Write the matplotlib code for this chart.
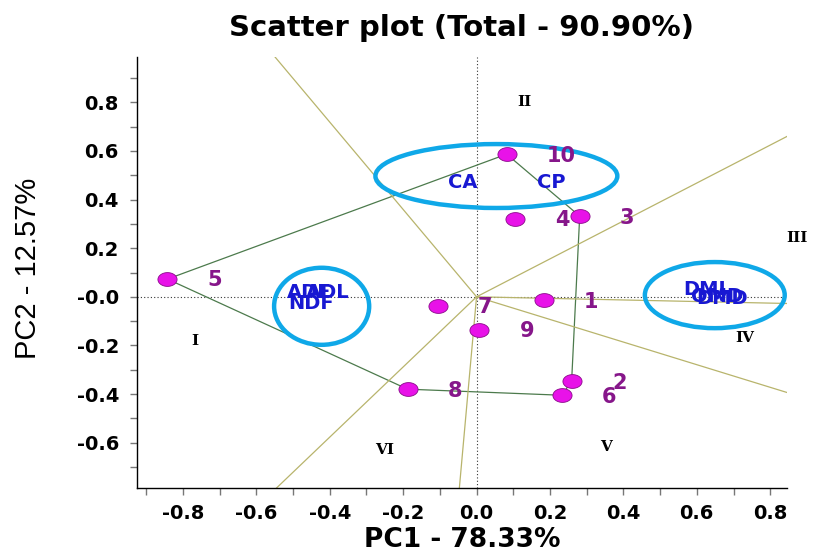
import numpy as np
import matplotlib.pyplot as plt
from matplotlib.patches import Ellipse
from matplotlib.path import Path

# genotype scores (PC1, PC2)
genotypes = ['1', '2', '3', '4', '5', '6', '7', '8', '9', '10']
pc1 = [0.183, 0.259, 0.281, 0.104, -0.842, 0.232, -0.106, -0.188, 0.008, 0.082]
pc2 = [-0.014, -0.347, 0.332, 0.320, 0.073, -0.405, -0.038, -0.380, -0.137, 0.587]

# trait vectors (label positions)
traits = ['CA', 'CP', 'ADF', 'ADL', 'NDF', 'DMI', 'OMD', 'DMD']
trait_x = [-0.038, 0.204, -0.455, -0.406, -0.450, 0.621, 0.654, 0.668]
trait_y = [0.472, 0.472, 0.019, 0.019, -0.026, 0.031, 0.003, -0.005]

# polygon vertices (which-won-where)
hull_order = ['5', '10', '3', '2', '6', '8']

# sector labels
sectors = ['I', 'II', 'III', 'IV', 'V', 'VI']
sector_x = [-0.768, 0.131, 0.872, 0.730, 0.354, -0.251]
sector_y = [-0.182, 0.801, 0.241, -0.170, -0.619, -0.631]

xticks = [-0.8, -0.6, -0.4, -0.2, 0.0, 0.2, 0.4, 0.6, 0.8]
xticklabels = ['-0.8', '-0.6', '-0.4', '-0.2', '0.0', '0.2', '0.4', '0.6', '0.8']
yticks = [-0.6, -0.4, -0.2, 0.0, 0.2, 0.4, 0.6, 0.8]
yticklabels = ['-0.6', '-0.4', '-0.2', '-0.0', '0.2', '0.4', '0.6', '0.8']

fig = plt.figure(figsize=(8.13, 5.57), dpi=100)
ax = fig.add_axes([0.1685, 0.1233, 0.7992, 0.7749])

# axes through origin
ax.axhline(0, color='#333333', ls=(0, (1, 2)), lw=0.8, zorder=1)
ax.axvline(0, color='#333333', ls=(0, (1, 2)), lw=0.8, zorder=1)

# polygon
idx = {g: i for i, g in enumerate(genotypes)}
hx = [pc1[idx[g]] for g in hull_order] + [pc1[idx[hull_order[0]]]]
hy = [pc2[idx[g]] for g in hull_order] + [pc2[idx[hull_order[0]]]]
ax.plot(hx, hy, color='#4c7a4c', lw=0.9, zorder=2)

# rays from origin perpendicular to each polygon side
for i in range(len(hull_order)):
    p = np.array([hx[i], hy[i]])
    q = np.array([hx[i + 1], hy[i + 1]])
    d = q - p
    t = -np.dot(p, d) / np.dot(d, d)
    foot = p + t * d
    ax.plot([0, foot[0] * 20], [0, foot[1] * 20], color='#b8b46c', lw=0.9, zorder=2)

# highlight ellipses
for cx, cy, w, h in [(0.054, 0.497, 0.659, 0.263),
                     (-0.422, -0.039, 0.259, 0.317),
                     (0.649, 0.007, 0.381, 0.272)]:
    ax.add_patch(Ellipse((cx, cy), w, h, fill=False, ec='#0fa8e8', lw=3.2, zorder=3))

# genotype markers (slightly oval spheres)
th = np.linspace(0, 2 * np.pi, 60)
oval = Path(np.column_stack([np.cos(th), 0.72 * np.sin(th)]))
ax.scatter(pc1, pc2, s=190, marker=oval, c='#e812e8', edgecolors='#8a0a8a',
           linewidths=0.6, zorder=4)

for g, x, y in zip(genotypes, pc1, pc2):
    ax.annotate(g, (x, y), xytext=(29, -1), textcoords='offset points',
                ha='left', va='center', fontsize=15, fontweight='bold',
                color='#86168a', zorder=6)

for t, x, y in zip(traits, trait_x, trait_y):
    ax.text(x, y, t, ha='center', va='center', fontsize=14, fontweight='bold',
            color='#1818d2', zorder=6)

for s, x, y in zip(sectors, sector_x, sector_y):
    ax.text(x, y, s, ha='center', va='center', fontsize=11, fontweight='bold',
            family='DejaVu Serif', color='black', clip_on=False, zorder=6)

ax.set_xlim(-0.925, 0.845)
ax.set_ylim(-0.788, 0.988)
ax.set_xticks(xticks)
ax.set_xticklabels(xticklabels, fontsize=14, fontweight='bold')
ax.set_yticks(yticks)
ax.set_yticklabels(yticklabels, fontsize=14, fontweight='bold')
ax.set_xticks(np.arange(-0.9, 0.85, 0.1), minor=True)
ax.set_yticks(np.arange(-0.7, 0.95, 0.1), minor=True)
ax.tick_params(which='both', direction='out', length=5, color='#777777', width=1)
ax.tick_params(axis='x', pad=6)
ax.tick_params(axis='y', pad=8)
for side in ['top', 'right']:
    ax.spines[side].set_visible(False)
for side in ['left', 'bottom']:
    ax.spines[side].set_color('black')
    ax.spines[side].set_linewidth(1.0)

fig.text(0.568, 0.95, 'Scatter plot (Total - 90.90%)', ha='center', va='center',
         fontsize=21, fontweight='bold')
fig.text(0.568, 0.03, 'PC1 - 78.33%', ha='center', va='center',
         fontsize=19, fontweight='bold')
fig.text(0.034, 0.519, 'PC2 - 12.57%', ha='center', va='center', rotation=90,
         fontsize=21, family='Liberation Sans')

fig.savefig('out.png', dpi=100)
